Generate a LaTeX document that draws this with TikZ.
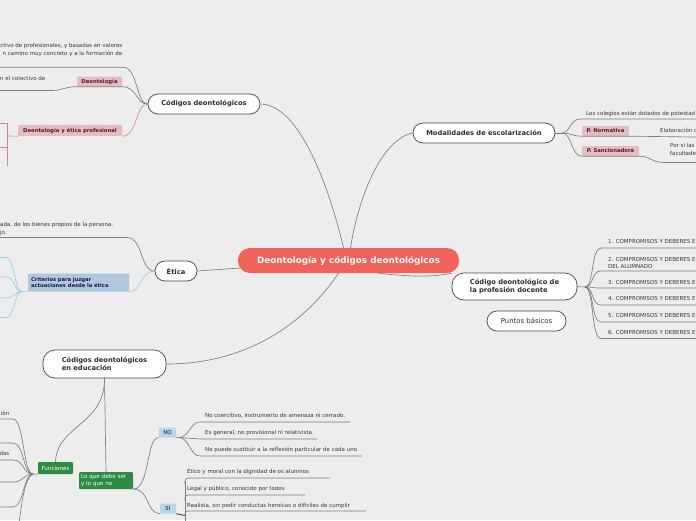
\documentclass[tikz,border=0pt]{standalone}
\usepackage{fontspec}
\setmainfont{DejaVu Sans}
\definecolor{bg}{RGB}{237,237,237}
\definecolor{cRed}{RGB}{240,98,90}
\definecolor{lineGray}{RGB}{125,125,125}
\definecolor{linePink}{RGB}{222,130,145}
\definecolor{lineBlue}{RGB}{150,205,235}
\definecolor{pinkFill}{RGB}{230,188,195}
\definecolor{pinkText}{RGB}{95,20,40}
\definecolor{blueFill}{RGB}{178,198,222}
\definecolor{blueText}{RGB}{20,30,60}
\definecolor{nosiFill}{RGB}{185,212,235}
\definecolor{greenFill}{RGB}{45,140,65}
\definecolor{txt}{RGB}{55,55,55}
\tikzset{
  topic/.style={draw=black!72, fill=white, line width=0.7pt, rounded corners=10pt,
    inner sep=0pt, minimum height=20pt, text=black!82, align=left,
    font=\bfseries\fontsize{6.7}{8}\selectfont},
  central/.style={fill=cRed, rounded corners=12pt, inner sep=0pt, text=white,
    minimum width=221pt, minimum height=25pt, font=\bfseries\fontsize{8.8}{10}\selectfont},
  pinklbl/.style={fill=pinkFill, text=pinkText, inner sep=0pt, minimum height=10pt,
    rounded corners=1pt, font=\bfseries\fontsize{5.3}{6.2}\selectfont},
  bluelbl/.style={fill=blueFill, text=blueText, inner sep=0pt, rounded corners=1pt,
    align=left, font=\bfseries\fontsize{5.2}{6.4}\selectfont},
  nosilbl/.style={fill=nosiFill, text=blueText, inner sep=0pt, rounded corners=1pt,
    minimum height=10pt, font=\fontsize{5.4}{6}\selectfont},
  greenlbl/.style={fill=greenFill, text=white, inner sep=0pt, rounded corners=1pt,
    align=left, font=\fontsize{5.6}{6.6}\selectfont},
  conn/.style={draw=lineGray, line width=0.65pt},
  pconn/.style={draw=linePink, line width=0.65pt},
  bconn/.style={draw=lineBlue, line width=0.65pt},
  small/.style={inner sep=0pt, text=txt, font=\fontsize{5.5}{7.2}\selectfont},
}
\begin{document}
\begin{tikzpicture}[x=1pt,y=-1pt]
\useasboundingbox (0,0) rectangle (696,520);
\fill[bg] (0,0) rectangle (696,520);
\begin{scope}
\clip (0,0) rectangle (696,520);

% ---------- main nodes ----------
\node[central] (central) at (348.5,260.5) {Deontología y códigos deontológicos};
\node[topic, minimum width=112pt] (cod) at (204,104) {Códigos deontológicos};
\node[topic, minimum width=142pt] (mod) at (484,133) {Modalidades de escolarización};
\node[topic, minimum width=125pt, minimum height=27pt, rounded corners=12pt] (doc) at (514.5,286.5) {Código deontológico de\\la profesión docente};
\node[topic, minimum width=79pt, font=\fontsize{6.9}{8}\selectfont] (pun) at (526.5,321) {Puntos básicos};
\node[topic, minimum width=42pt] (eti) at (176,271) {Ética};
\node[topic, minimum width=123pt, minimum height=28pt, rounded corners=12pt] (edu) at (104.5,364) {Códigos deontológicos\\en educación};

% ---------- central connectors ----------
\draw[conn] (cod.east) .. controls (300,104) and (330,190) .. ([xshift=-5pt]central.north);
\draw[conn] (mod.west) .. controls (380,140) and (358,200) .. ([xshift=2pt]central.north);
\draw[conn] (eti.east) -- ([xshift=2pt,yshift=-7.5pt]central.west);
\draw[conn] ([xshift=30pt]central.south) .. controls (405,276) and (430,278) .. (doc.168);
\draw[conn] ([xshift=-10pt]central.south) .. controls (300,330) and (240,364) .. (edu.east);

% ---------- Códigos deontológicos children ----------
\node[small, anchor=north east, align=right] (ct1) at (122.5,43.5) {ctivo de profesionales, y basadas en valores\\n camino muy concreto y a la formación de};
\coordinate (u1a) at (0,67.3);
\coordinate (u1b) at (123,67.3);
\draw[conn] (u1a) -- (u1b) .. controls (138,67.3) and (136,104) .. (cod.west);

\node[pinklbl, minimum width=45pt] (deo) at (99.5,81.5) {Deontología};
\node[small, anchor=west] (ct2) at (0,78) {n el colectivo de};
\coordinate (u2a) at (0,90.5);
\coordinate (u2b) at (52,90.5);
\draw[conn] (deo.south east) .. controls (137,86.5) and (136,104) .. (cod.west);
\draw[conn] (deo.south east) -- (deo.south west) .. controls (66,86.5) and (62,90.5) .. (u2b) -- (u2a);

\node[pinklbl, minimum width=104pt, minimum height=11pt] (dep) at (70,130.5) {Deontología y ética profesional};
\coordinate (ph) at (7,136);
\draw[pconn] (dep.south east) .. controls (138,136) and (135,104) .. (cod.west);
\draw[pconn] (dep.south west) -- (ph);
\draw[pconn] (7,123) -- (7,166);
\draw[pconn] (0,123) -- (7,123);
\draw[pconn] (0,147) -- (7,147);

% ---------- Ética children ----------
\node[small, anchor=north west, align=left] (et1) at (0,222.5) {ada, de los bienes propios de la persona.\\jo.};
\coordinate (u3a) at (0,237.5);
\coordinate (u3b) at (127,237.5);
\draw[conn] (u3a) -- (u3b) .. controls (143,237.5) and (140,271) .. (eti.west);

\node[bluelbl, minimum width=101pt, minimum height=18pt, text width=95pt] (cri) at (78.5,282.5) {Criterios para juzgar\\actuaciones desde la ética};
\coordinate (bh) at (22,291.5);
\draw[bconn] (eti.west) .. controls (140,271) and (142,291.5) .. (cri.south east);
\draw[bconn] (cri.south west) -- (bh);
\foreach \yy in {257.5,277,298,317.5}{
  \draw[bconn] (bh) .. controls (14,291.5) and (15,\yy) .. (6,\yy) -- (0,\yy);
}

% ---------- Educación children ----------
\node[greenlbl, minimum width=35pt, minimum height=12pt, align=center] (fun) at (55.5,468) {Funciones};
\node[greenlbl, minimum width=54pt, minimum height=17pt, text width=50pt] (lq) at (106,480.5) {Lo que debe ser\\y lo que no};
\draw[conn] (edu.south) .. controls (105,425) and (57,425) .. (fun.north);
\draw[conn] (edu.south) -- (lq.north);

\coordinate (fh) at (33,474);
\draw[conn] (fun.south west) -- (fh);
\foreach \yy in {419,443,460,482,507}{
  \draw[conn] (fh) .. controls (23,474) and (24,\yy) .. (13,\yy) -- (0,\yy);
}
\draw[conn] (fh) .. controls (25,478) and (22,500) .. (19,524);
\node[small, anchor=east] (fi1) at (9.5,413) {ión};
\node[small, anchor=east] (fi2) at (9.5,453) {das};

% NO / SÍ
\node[nosilbl, minimum width=17pt] (no) at (167.5,432.5) {NO};
\node[nosilbl, minimum width=16pt] (si) at (168,508.5) {SÍ};
\draw[conn] (lq.south east) .. controls (150,489) and (146,437) .. (no.south west);
\draw[conn] (lq.south east) .. controls (150,489) and (146,513.5) .. (si.south west);

\coordinate (nh) at (179,437.5);
\draw[conn] (no.south east) -- (nh);
\draw[conn] (nh) .. controls (189,437.5) and (190,422) .. (200,422) -- (350,422);
\draw[conn] (nh) .. controls (189,437.5) and (190,439) .. (200,439) -- (317,439);
\draw[conn] (nh) .. controls (189,437.5) and (190,456) .. (200,456) -- (362,456);
\node[small, anchor=west] (n1) at (205,415.5) {No coercitivo, instrumento de amenaza ni cerrado.};
\node[small, anchor=west] (n2) at (205,432.5) {Es general, no provisional ni relativista};
\node[small, anchor=west] (n3) at (205,450) {No puede sustituir a la reflexión particular de cada uno};

\coordinate (sh) at (185,515.5);
\draw[conn, line width=0.9pt, draw=black!70] (si.south east) -- (sh);
\draw[conn] (185,524) -- (185,481);
\draw[conn, rounded corners=3pt] (185,484) |- (330,478);
\draw[conn, rounded corners=3pt] (185,500) |- (305,495);
\draw[conn, rounded corners=3pt] (185,515) |- (366,511);
\node[small, anchor=west] (s1) at (187,471.5) {Ético y moral con la dignidad de os alumnos};
\node[small, anchor=west] (s2) at (187,488.5) {Legal y público, conocido por todos};
\node[small, anchor=west] (s3) at (187,505.5) {Realista, sin pedir conductas heroicas o difíciles de cumplir};

% ---------- Modalidades children ----------
\coordinate (mh) at (562,133);
\draw[conn] (mod.east) -- (mh);
\node[small, anchor=west] (m1) at (586,114) {Los colegios están dotados de potestad};
\draw[conn] (mh) .. controls (570,133) and (570,119) .. (580,119) -- (696,119);

\node[pinklbl, minimum width=47pt] (pn) at (605.5,131) {P. Normativa};
\draw[conn] (mh) .. controls (570,133) and (572,136) .. (pn.south west);
\draw[conn] (pn.south west) -- (pn.south east) -- (696,137);
\node[small, anchor=west] (m2) at (660,130.5) {Elaboración c};

\node[pinklbl, minimum width=57pt] (ps) at (610.5,151) {P. Sancionadora};
\draw[conn] (mh) .. controls (572,133) and (571,156) .. (ps.south west);
\draw[conn] (ps.south west) -- (ps.south east) .. controls (650,156) and (652,162.5) .. (664,162.5) -- (696,162.5);
\node[small, anchor=north west, align=left] (m3) at (670,143.5) {Por si las\\facultades};

% ---------- Código docente children ----------
\coordinate (dh) at (585,287);
\draw[conn] (doc.east) -- (dh);
\foreach \yy in {248,271,288,305,322,338.5}{
  \draw[conn] (dh) .. controls (594,287) and (591,\yy) .. (601,\yy) -- (696,\yy);
}
\node[small, anchor=west] (d1) at (608,241) {1. COMPROMISOS Y DEBERES E};
\node[small, anchor=south west, align=left] (d2) at (608,268.5) {2. COMPROMISOS Y DEBERES E\\DEL ALUMNADO};
\node[small, anchor=west] (d3) at (608,282) {3. COMPROMISOS Y DEBERES E};
\node[small, anchor=west] (d4) at (608,298.5) {4. COMPROMISOS Y DEBERES E};
\node[small, anchor=west] (d5) at (608,315) {5. COMPROMISOS Y DEBERES E};
\node[small, anchor=west] (d6) at (608,332) {6. COMPROMISOS Y DEBERES E};
\end{scope}
\end{tikzpicture}
\end{document}
